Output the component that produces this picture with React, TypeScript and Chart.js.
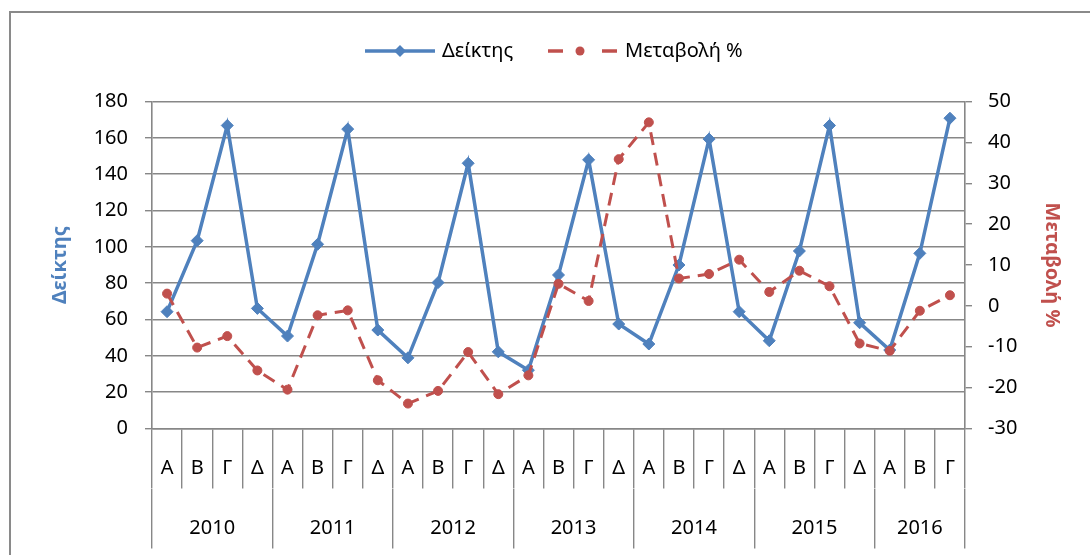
import React, { useEffect, useRef } from "react";
import { Chart, registerables } from "chart.js";

Chart.register(...registerables);

const quarterLabels = [
  "Α", "Β", "Γ", "Δ",
  "Α", "Β", "Γ", "Δ",
  "Α", "Β", "Γ", "Δ",
  "Α", "Β", "Γ", "Δ",
  "Α", "Β", "Γ", "Δ",
  "Α", "Β", "Γ", "Δ",
  "Α", "Β", "Γ",
];
const years = ["2010", "2011", "2012", "2013", "2014", "2015", "2016"];
const quartersPerYear = [4, 4, 4, 4, 4, 4, 3];

const indexValues = [
  64.3, 103.4, 166.8, 66.1,
  50.9, 101.4, 164.8, 54.2,
  38.9, 80.3, 146.0, 42.2,
  32.1, 84.5, 147.9, 57.5,
  46.5, 90.0, 159.3, 64.3,
  48.3, 97.7, 166.8, 58.2,
  43.2, 96.4, 170.8,
];
const changeValues = [
  3.0, -10.2, -7.4, -15.8,
  -20.5, -2.3, -1.1, -18.2,
  -23.9, -20.8, -11.3, -21.6,
  -17.0, 5.4, 1.2, 35.9,
  44.9, 6.7, 7.8, 11.3,
  3.4, 8.6, 4.8, -9.2,
  -11.0, -1.2, 2.6,
];

const leftMin = 0, leftMax = 180, leftStep = 20;
const rightMin = -30, rightMax = 50, rightStep = 10;

const BLUE = "#4F81BD";
const RED = "#C0504D";
const GRID = "#878787";
const FONT = "'Noto Sans', 'Open Sans', sans-serif";
const FS = 20;

const yearBoundaries: number[] = [];
const yearCenters: number[] = [];
{
  let start = 0;
  yearBoundaries.push(-0.5);
  quartersPerYear.forEach((n) => {
    yearCenters.push(start + (n - 1) / 2);
    start += n;
    yearBoundaries.push(start - 0.5);
  });
}

export default function App() {
  const canvasRef = useRef<HTMLCanvasElement | null>(null);

  useEffect(() => {
    if (!canvasRef.current) return;
    const chart = new Chart(canvasRef.current, {
      type: "line",
      data: {
        labels: quarterLabels,
        datasets: [
          {
            label: "Δείκτης",
            data: indexValues,
            yAxisID: "y",
            xAxisID: "x",
            borderColor: BLUE,
            backgroundColor: BLUE,
            borderWidth: 3.5,
            pointStyle: "rectRot",
            pointRadius: 6,
            pointBackgroundColor: BLUE,
            pointBorderColor: BLUE,
            pointBorderWidth: 1,
            tension: 0,
            order: 2,
          },
          {
            label: "Μεταβολή %",
            data: changeValues,
            yAxisID: "y1",
            xAxisID: "x",
            borderColor: RED,
            backgroundColor: RED,
            borderWidth: 3,
            borderDash: [13, 8],
            pointStyle: "circle",
            pointRadius: 4.5,
            pointBackgroundColor: RED,
            pointBorderColor: RED,
            pointBorderWidth: 1,
            tension: 0,
            order: 1,
          },
        ],
      },
      options: {
        animation: false,
        responsive: false,
        maintainAspectRatio: false,
        layout: { padding: { top: 101.5, bottom: 6.5, left: 0, right: 0 } },
        plugins: {
          legend: { display: false },
          tooltip: { enabled: false },
        },
        scales: {
          x: {
            type: "category",
            position: "bottom",
            weight: 1,
            offset: true,
            grid: {
              offset: true,
              drawOnChartArea: false,
              drawTicks: true,
              tickLength: 60,
              color: GRID,
              lineWidth: 1.4,
            },
            border: { display: true, color: GRID, width: 1.6 },
            ticks: {
              autoSkip: false,
              maxRotation: 0,
              minRotation: 0,
              padding: -32.5,
              color: "#000",
              font: { family: FONT, size: FS },
            },
            afterFit: (scale: any) => {
              scale.height = 60;
            },
          },
          x2: {
            type: "linear",
            position: "bottom",
            weight: 2,
            min: -0.5,
            max: quarterLabels.length - 0.5,
            afterBuildTicks: (scale: any) => {
              const t: any[] = [];
              yearBoundaries.forEach((v) => t.push({ value: v }));
              yearCenters.forEach((v) => t.push({ value: v }));
              t.sort((a, b) => a.value - b.value);
              scale.ticks = t;
            },
            grid: {
              drawOnChartArea: false,
              drawTicks: true,
              tickLength: 60,
              lineWidth: 1.4,
              color: (ctx: any) =>
                ctx.tick && yearBoundaries.includes(ctx.tick.value) ? GRID : "rgba(0,0,0,0)",
            },
            border: { display: false },
            ticks: {
              autoSkip: false,
              maxRotation: 0,
              minRotation: 0,
              padding: -32.5,
              color: "#000",
              font: { family: FONT, size: FS },
              callback: (value: any) => {
                const i = yearCenters.indexOf(Number(value));
                return i >= 0 ? years[i] : "";
              },
            },
            afterFit: (scale: any) => {
              scale.height = 60;
            },
          },
          y: {
            type: "linear",
            position: "left",
            min: leftMin,
            max: leftMax,
            ticks: {
              stepSize: leftStep,
              padding: 17,
              color: "#000",
              font: { family: FONT, size: FS },
            },
            grid: {
              color: GRID,
              lineWidth: 1.4,
              drawTicks: true,
              tickLength: 7,
            },
            border: { display: true, color: GRID, width: 1.6 },
            title: {
              display: true,
              text: "Δείκτης",
              color: BLUE,
              font: { family: FONT, size: FS, weight: "bold" },
              padding: { top: 48, bottom: 0 },
            },
            afterFit: (scale: any) => {
              scale.width = 152;
            },
          },
          y1: {
            type: "linear",
            position: "right",
            min: rightMin,
            max: rightMax,
            ticks: {
              stepSize: rightStep,
              padding: 16,
              color: "#000",
              font: { family: FONT, size: FS },
            },
            grid: {
              drawOnChartArea: false,
              color: GRID,
              lineWidth: 1.4,
              drawTicks: true,
              tickLength: 7,
            },
            border: { display: true, color: GRID, width: 1.6 },
            title: {
              display: true,
              text: "Μεταβολή %",
              color: RED,
              font: { family: FONT, size: FS, weight: "bold" },
              padding: { top: 26, bottom: 0 },
            },
            afterFit: (scale: any) => {
              scale.width = 125;
            },
          },
        },
      },
    });
    return () => chart.destroy();
  }, []);

  const textStyle: React.CSSProperties = {
    position: "absolute",
    fontFamily: FONT,
    fontSize: FS,
    lineHeight: "22px",
    color: "#000",
    top: 39,
    whiteSpace: "nowrap",
  };

  return (
    <div
      style={{
        position: "absolute",
        left: 0,
        top: 0,
        width: 1090,
        height: 555,
        overflow: "hidden",
        background: "#fff",
      }}
    >
      <div
        style={{
          position: "absolute",
          left: 9,
          top: 11,
          width: 1200,
          height: 700,
          border: "2px solid #8a8a8a",
          boxSizing: "border-box",
        }}
      />
      <canvas
        ref={canvasRef}
        width={1090}
        height={555}
        style={{ position: "absolute", left: 0, top: 0, width: 1090, height: 555 }}
      />
      <svg
        width={1090}
        height={100}
        style={{ position: "absolute", left: 0, top: 0 }}
      >
        <line x1={365} y1={51} x2={435} y2={51} stroke={BLUE} strokeWidth={3.5} />
        <polygon points="400,45 406,51 400,57 394,51" fill={BLUE} />
        <line x1={548} y1={51} x2={563} y2={51} stroke={RED} strokeWidth={3.5} />
        <circle cx={580} cy={51} r={4.5} fill={RED} />
        <line x1={602} y1={51} x2={617} y2={51} stroke={RED} strokeWidth={3.5} />
      </svg>
      <span style={{ ...textStyle, left: 442 }}>Δείκτης</span>
      <span style={{ ...textStyle, left: 625 }}>Μεταβολή %</span>
    </div>
  );
}
